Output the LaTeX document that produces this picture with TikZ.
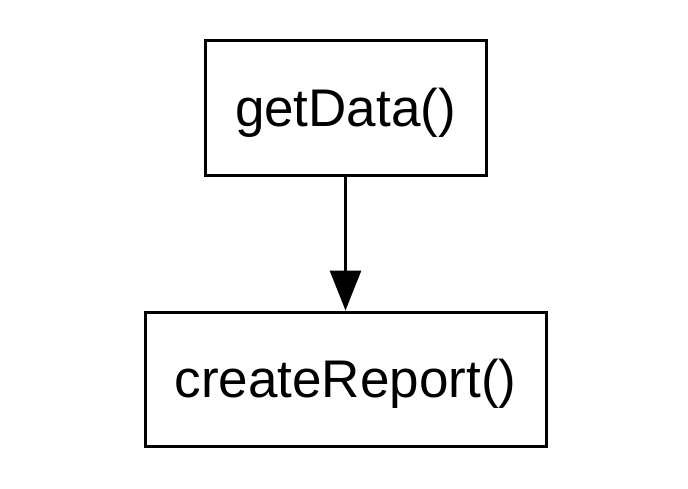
\documentclass[tikz,border=0pt]{standalone}
\usepackage{fontspec}
\setmainfont{Liberation Sans}
\usetikzlibrary{arrows.meta}
\begin{document}
\begin{tikzpicture}[x=1pt,y=1pt,
  fn/.style={draw=black,line width=3pt,inner sep=0pt,text height=40pt,text depth=3pt,font=\fontsize{53}{60}\selectfont},
  conn/.style={line width=3pt,-{Triangle[length=40pt,width=31pt]},shorten >=0pt}]
\useasboundingbox (0,0) rectangle (688,488);
\node[fn,minimum width=281pt,minimum height=135pt] (a) at (345.5,379.5) {getData()};
\node[fn,minimum width=401pt,minimum height=134pt] (b) at (345.5,109) {createReport()};
\draw[conn] (a) -- (b);
\end{tikzpicture}
\end{document}
